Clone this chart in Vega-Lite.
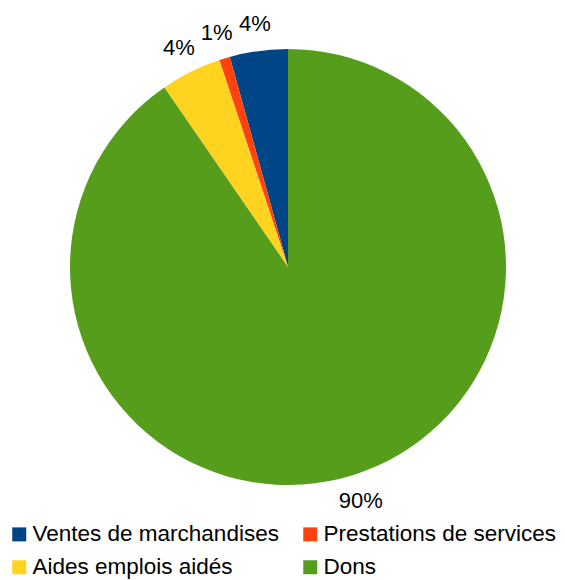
{
  "$schema": "https://vega.github.io/schema/vega-lite/v6.json",
  "width": 554,
  "height": 534,
  "autosize": {"type": "none"},
  "padding": {"left": 11, "top": 0, "right": 0, "bottom": 46},
  "background": "white",
  "data": {
    "values": [
      {"categorie": "Ventes de marchandises", "valeur": 4.3, "label": "4%", "ordre": 4},
      {"categorie": "Prestations de services", "valeur": 0.8, "label": "1%", "ordre": 3},
      {"categorie": "Aides emplois aidés", "valeur": 4.5, "label": "4%", "ordre": 2},
      {"categorie": "Dons", "valeur": 90.4, "label": "90%", "ordre": 1}
    ]
  },
  "encoding": {
    "theta": {"field": "valeur", "type": "quantitative", "stack": true},
    "order": {"field": "ordre", "type": "quantitative"},
    "color": {
      "field": "categorie",
      "type": "nominal",
      "scale": {
        "domain": ["Ventes de marchandises", "Prestations de services", "Aides emplois aidés", "Dons"],
        "range": ["#004586", "#ff420e", "#ffd320", "#579d1c"]
      },
      "legend": {
        "title": null,
        "orient": "none",
        "legendX": -3,
        "legendY": 523,
        "direction": "horizontal",
        "columns": 2,
        "columnPadding": 20,
        "rowPadding": 10,
        "padding": 0,
        "symbolType": "square",
        "symbolSize": 196,
        "symbolStrokeWidth": 0,
        "labelOffset": 2,
        "labelFont": "Liberation Sans",
        "labelFontSize": 22.5,
        "labelColor": "#000000",
        "labelLimit": 400
      }
    }
  },
  "layer": [
    {"mark": {"type": "arc", "outerRadius": 218}},
    {
      "mark": {"type": "text", "radius": 245, "font": "Liberation Sans", "fontSize": 22, "color": "#000000", "align": "center", "baseline": "middle"},
      "encoding": {
        "text": {"field": "label", "type": "nominal"},
        "color": {"value": "#000000"}
      }
    }
  ]
}
